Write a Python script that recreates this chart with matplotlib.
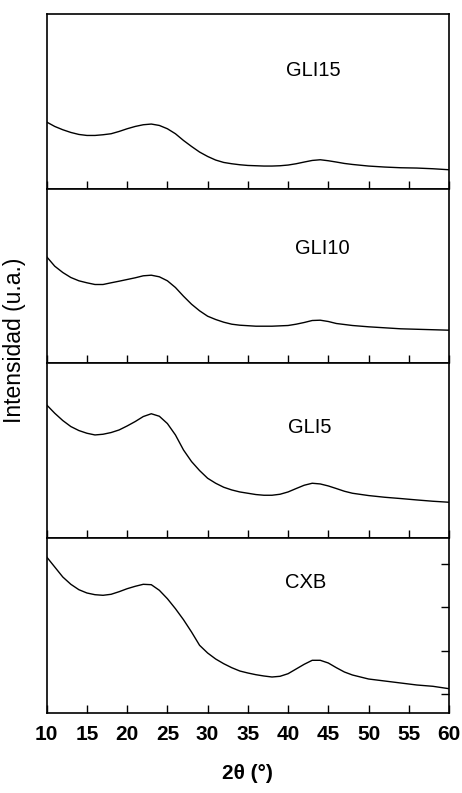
import matplotlib
matplotlib.use("Agg")
import matplotlib.pyplot as plt

plt.rcParams['font.family'] = ['Liberation Sans', 'DejaVu Sans']

# samples, top to bottom
samples = ['GLI15', 'GLI10', 'GLI5', 'CXB']

# 2theta (deg) and intensity (a.u.)
tt_gli15 = [10, 11, 12, 13, 14, 15, 16, 17, 18, 19, 20, 21, 22, 23, 24, 25, 26, 27,
            28, 29, 30, 31, 32, 33, 34, 35, 36, 37, 38, 39, 40, 41, 42, 43, 44, 45,
            46, 47, 48, 50, 52, 54, 56, 58, 60]
i_gli15 = [66.7, 62.3, 59, 56.3, 54.3, 53.3, 53.3, 54, 55, 57.3, 60, 62.3, 64, 64.7,
           63.3, 60, 55, 48.3, 42.3, 36.7, 32.3, 28.7, 26.3, 25, 24, 23.3, 23, 22.7,
           22.7, 23, 23.7, 25, 26.7, 28.3, 29, 28, 26.7, 25.3, 24.3, 22.7, 21.7, 21,
           20.7, 20, 19]

tt_gli10 = [10, 11, 12, 13, 14, 15, 16, 17, 18, 19, 20, 21, 22, 23, 24, 25, 26, 27,
            28, 29, 30, 31, 32, 33, 34, 36, 38, 40, 41, 42, 43, 44, 45, 46, 48, 50,
            54, 60]
i_gli10 = [106.7, 97.3, 91, 86, 82.7, 80.7, 79, 79, 80.7, 82.3, 84, 85.7, 87.7, 88.3,
           86.7, 82.7, 76, 67.3, 59.3, 52.7, 47.3, 44, 41.3, 39.3, 38.3, 37.3, 37.3,
           38, 39.3, 41, 43, 43.3, 42, 40, 38, 36.7, 34.7, 33.3]

tt_gli5 = [10, 11, 12, 13, 14, 15, 16, 17, 18, 19, 20, 21, 22, 23, 24, 25, 26, 27,
           28, 29, 30, 31, 32, 33, 34, 35, 36, 37, 38, 39, 40, 41, 42, 43, 44, 45,
           46, 47, 48, 50, 52, 54, 56, 58, 60]
i_gli5 = [133.3, 125, 117.7, 111.7, 107.7, 105, 103.3, 104, 105.7, 108.3, 112.3,
          116.7, 121.7, 124.5, 122, 114.7, 103.3, 88.3, 76.7, 67.7, 60, 55, 51,
          48.3, 46.3, 45, 43.7, 43, 43, 44, 46.3, 49.7, 53, 55, 54.3, 52.3, 49.7, 47,
          45, 42.7, 41, 39.7, 38.3, 37, 36]

tt_cxb = [10, 11, 12, 13, 14, 15, 16, 17, 18, 19, 20, 21, 22, 23, 24, 25, 26, 27,
          28, 29, 30, 31, 32, 33, 34, 35, 36, 37, 38, 39, 40, 41, 42, 43, 44, 45,
          46, 47, 48, 49, 50, 52, 54, 56, 58, 60]
i_cxb = [156, 146, 136, 128.7, 123.3, 120, 118.3, 117.7, 118.7, 121.3, 124.3, 126.7,
         128.7, 128.3, 122.7, 114.3, 104.3, 93.3, 81, 67.7, 60, 54, 49.3, 45.3, 42,
         40, 38.3, 37, 36, 36.7, 39.3, 44, 48.7, 52.7, 52.7, 50, 45.3, 41, 38, 36,
         34, 32, 30, 28, 26.7, 24.3]

label_pos = [(43.1, 118), (44.2, 115), (42.7, 111), (42.2, 130)]
right_ticks = [19, 62.5, 106, 149.5]
x_ticks = [10, 15, 20, 25, 30, 35, 40, 45, 50, 55, 60]

traces = [(tt_gli15, i_gli15), (tt_gli10, i_gli10), (tt_gli5, i_gli5), (tt_cxb, i_cxb)]

fig = plt.figure(figsize=(4.62, 7.93), dpi=100)
left, right = 46.7 / 462, 449 / 462
top_px, bot_px = 14, 713
h = (bot_px - top_px) / 4

for k, (tt, inten) in enumerate(traces):
    y0 = 1 - (top_px + (k + 1) * h) / 793
    ax = fig.add_axes([left, y0, right - left, h / 793])
    ax.plot(tt, inten, color='black', lw=1.0)
    ax.set_xlim(10, 60)
    ax.set_ylim(0, 174.75)
    ax.set_xticks(x_ticks)
    ax.tick_params(axis='x', direction='in', length=6, width=1, top=False)
    ax.set_yticks([])
    for s in ax.spines.values():
        s.set_linewidth(1.2)
    ax.text(label_pos[k][0], label_pos[k][1], samples[k], ha='center', va='center',
            fontsize=14.5)
    if k < 3:
        ax.tick_params(axis='x', labelbottom=False)
    else:
        ax.tick_params(axis='x', pad=9, labelsize=15)
        for t in ax.get_xticklabels():
            t.set_fontweight('bold')
        ax.yaxis.tick_right()
        ax.set_yticks(right_ticks)
        ax.tick_params(axis='y', direction='in', length=6, width=1, labelright=False)
        ax.set_xlabel('2θ (°)', fontsize=15, fontweight='bold', labelpad=14)

fig.text(15 / 462, 1 - 340 / 793, 'Intensidad (u.a.)', rotation=90,
         ha='center', va='center', fontsize=16.5)

fig.savefig('out.png', dpi=100)
